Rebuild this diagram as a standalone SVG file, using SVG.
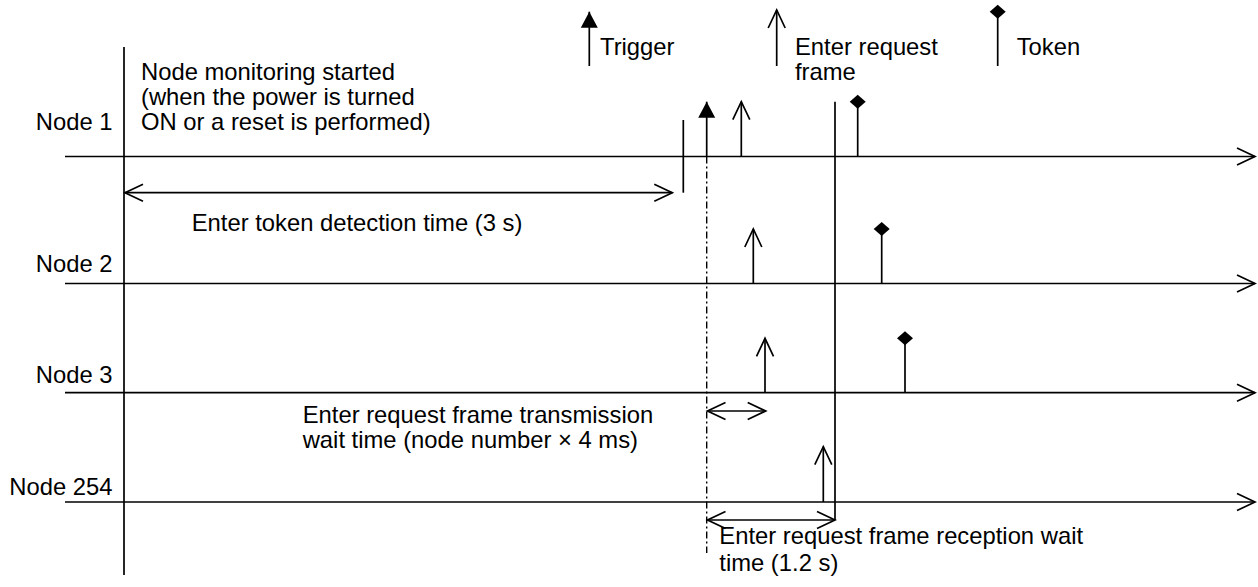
<svg xmlns="http://www.w3.org/2000/svg" width="1258" height="587" viewBox="0 0 1258 587">
  <style>
    text { font-family: "Liberation Sans", Arial, sans-serif; font-size: 23.8px; fill: #000; }
    .r { text-anchor: end; }
    .ln { stroke: #000; stroke-width: 1.7; fill: none; }
    .open { marker-end: url(#chev); }
    .dbl { marker-start: url(#chev); marker-end: url(#chev); }
    .trig { marker-end: url(#tri); }
    .tok { marker-end: url(#dia); }
    .dd { stroke: #000; stroke-width: 1.4; fill: none; stroke-dasharray: 7 3 2 3; }
  </style>
  <defs>
    <marker id="chev" markerUnits="userSpaceOnUse" markerWidth="20" markerHeight="20" refX="18" refY="8.5" orient="auto-start-reverse" overflow="visible">
      <path d="M0,0 L18,8.5 L0,17" fill="none" stroke="#000" stroke-width="1.7"/>
    </marker>
    <marker id="tri" markerUnits="userSpaceOnUse" markerWidth="20" markerHeight="20" refX="16" refY="8.5" orient="auto" overflow="visible">
      <path d="M0,0 L16,8.5 L0,17 Z" fill="#000"/>
    </marker>
    <marker id="dia" markerUnits="userSpaceOnUse" markerWidth="20" markerHeight="20" refX="7" refY="8" orient="auto" overflow="visible">
      <path d="M0,8 L7,0 L14,8 L7,16 Z" fill="#000"/>
    </marker>
  </defs>

  <g id="legend">
    <line class="ln trig" x1="589.3" y1="66" x2="589.3" y2="11.7"/>
    <text x="600" y="55">Trigger</text>
    <line class="ln open" x1="776.7" y1="66" x2="776.7" y2="10"/>
    <text x="795" y="55">Enter request<tspan x="795" dy="25">frame</tspan></text>
    <line class="ln tok" x1="997.7" y1="66" x2="997.7" y2="11.7"/>
    <text x="1016.7" y="55">Token</text>
  </g>

  <g id="time-axis">
    <line class="ln" x1="124" y1="47" x2="124" y2="575"/>
    <text x="141" y="79.5">Node monitoring started<tspan x="141" dy="25">(when the power is turned</tspan><tspan x="141" dy="25">ON or a reset is performed)</tspan></text>
  </g>

  <g id="node1">
    <line class="ln open" x1="65" y1="156.5" x2="1255" y2="156.5"/>
    <text class="r" x="112.5" y="129.5">Node 1</text>
  </g>
  <g id="node2">
    <line class="ln open" x1="65" y1="283.5" x2="1255" y2="283.5"/>
    <text class="r" x="112.5" y="272">Node 2</text>
  </g>
  <g id="node3">
    <line class="ln open" x1="65" y1="392.7" x2="1255" y2="392.7"/>
    <text class="r" x="112.5" y="383">Node 3</text>
  </g>
  <g id="node254">
    <line class="ln open" x1="65" y1="502" x2="1255" y2="502"/>
    <text class="r" x="112.5" y="495">Node 254</text>
  </g>

  <g id="connectors">
    <line class="ln" x1="683.3" y1="120" x2="683.3" y2="192.7"/>
    <line class="ln dbl" x1="125" y1="192.7" x2="672.3" y2="192.7"/>
    <line class="ln trig" x1="706.7" y1="156.5" x2="706.7" y2="101.7"/>
    <line class="dd" x1="706.7" y1="156.5" x2="706.7" y2="553"/>
    <line class="ln open" x1="741.3" y1="156.5" x2="741.3" y2="101.7"/>
    <line class="ln open" x1="753.3" y1="283.5" x2="753.3" y2="229"/>
    <line class="ln open" x1="765" y1="392.7" x2="765" y2="338.3"/>
    <line class="ln open" x1="823.3" y1="502" x2="823.3" y2="446.7"/>
    <line class="ln tok" x1="857.7" y1="156.5" x2="857.7" y2="101.7"/>
    <line class="ln tok" x1="881.7" y1="283.5" x2="881.7" y2="229"/>
    <line class="ln tok" x1="905" y1="392.7" x2="905" y2="338.3"/>
    <line class="ln" x1="835" y1="101.7" x2="835" y2="520"/>
    <line class="ln dbl" x1="707.5" y1="411" x2="765.7" y2="411"/>
    <line class="ln dbl" x1="707.5" y1="520" x2="835" y2="520"/>
  </g>

  <g id="labels">
    <text x="191.7" y="231">Enter token detection time (3 s)</text>
    <text x="302.7" y="422.7">Enter request frame transmission<tspan x="302.7" dy="25">wait time (node number × 4 ms)</tspan></text>
    <text x="719.3" y="544">Enter request frame reception wait<tspan x="719.3" dy="27">time (1.2 s)</tspan></text>
  </g>
</svg>
